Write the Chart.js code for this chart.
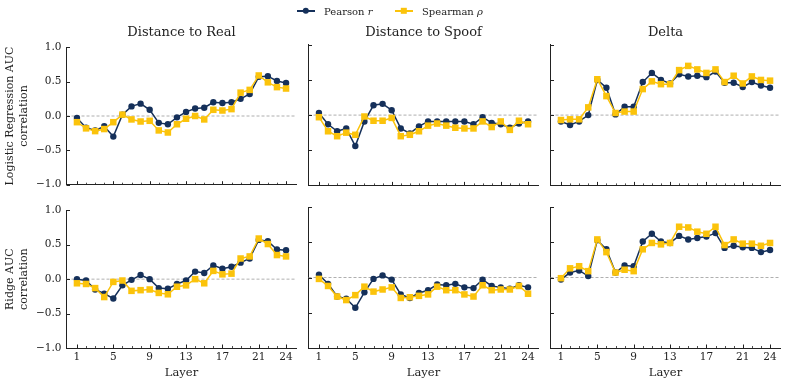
<!DOCTYPE html>
<html>
<head>
<meta charset="utf-8">
<script src="https://cdn.jsdelivr.net/npm/chart.js@4.4.1/dist/chart.umd.min.js"></script>
<style>
  html, body { margin: 0; padding: 0; background: #fff; }
  #fig { position: relative; width: 787px; height: 386px; overflow: hidden; font-family: 'DejaVu Serif', serif; color: #222; }
  canvas { position: absolute; }
  .ttl { position: absolute; font-size: 13px; transform: translate(-50%, -50%); white-space: nowrap; }
  .leg { position: absolute; font-size: 10px; white-space: nowrap; transform: translateY(-50%); }
  .legline { position: absolute; height: 1.5px; }
  .legmark { position: absolute; transform: translate(-50%, -50%); }
</style>
</head>
<body>
<div id="fig"></div>
<script>
// ---------------- DATA ----------------
const layers = [1,2,3,4,5,6,7,8,9,10,11,12,13,14,15,16,17,18,19,20,21,22,23,24];
const xTickLabels = [1,5,9,13,17,21,24];
const yTickValues = [-1.0,-0.5,0.0,0.5,1.0];
const columnTitles = ['Distance to Real','Distance to Spoof','Delta'];
const rowLabels = [['Logistic Regression AUC','correlation'], ['Ridge AUC','correlation']];
const seriesNames = ['Pearson r','Spearman ρ'];

// Logistic Regression row
const lrRealPearson   = [-0.03,-0.17,-0.21,-0.15,-0.30,0.02,0.14,0.18,0.09,-0.10,-0.12,-0.02,0.06,0.11,0.12,0.20,0.19,0.20,0.25,0.32,0.57,0.58,0.51,0.48];
const lrRealSpearman  = [-0.09,-0.18,-0.22,-0.19,-0.09,0.02,-0.05,-0.08,-0.07,-0.21,-0.24,-0.12,-0.04,0.00,-0.05,0.09,0.08,0.10,0.34,0.38,0.59,0.49,0.42,0.40];
const lrSpoofPearson  = [0.03,-0.13,-0.23,-0.19,-0.44,-0.09,0.14,0.16,0.07,-0.19,-0.26,-0.16,-0.09,-0.09,-0.09,-0.09,-0.09,-0.13,-0.03,-0.11,-0.13,-0.18,-0.12,-0.09];
const lrSpoofSpearman = [-0.03,-0.23,-0.30,-0.25,-0.28,-0.02,-0.08,-0.08,-0.04,-0.30,-0.28,-0.23,-0.15,-0.12,-0.15,-0.18,-0.19,-0.19,-0.09,-0.17,-0.09,-0.21,-0.08,-0.13];
const lrDeltaPearson  = [-0.09,-0.14,-0.09,0.00,0.50,0.39,0.01,0.12,0.12,0.47,0.60,0.50,0.45,0.58,0.55,0.56,0.54,0.62,0.46,0.46,0.40,0.47,0.42,0.39];
const lrDeltaSpearman = [-0.07,-0.06,-0.06,0.11,0.51,0.27,0.03,0.05,0.05,0.37,0.48,0.44,0.44,0.64,0.70,0.65,0.60,0.65,0.47,0.56,0.45,0.55,0.50,0.49];

// Ridge row
const ridgeRealPearson   = [0.00,-0.02,-0.15,-0.21,-0.28,-0.09,-0.01,0.06,0.00,-0.13,-0.14,-0.07,-0.02,0.11,0.09,0.20,0.15,0.18,0.24,0.30,0.57,0.55,0.43,0.42];
const ridgeRealSpearman  = [-0.06,-0.07,-0.13,-0.26,-0.04,-0.02,-0.17,-0.16,-0.15,-0.20,-0.22,-0.11,-0.09,0.00,-0.06,0.12,0.07,0.08,0.30,0.33,0.59,0.51,0.35,0.33];
const ridgeSpoofPearson  = [0.04,-0.09,-0.27,-0.30,-0.43,-0.21,-0.02,0.03,-0.03,-0.24,-0.29,-0.22,-0.18,-0.10,-0.11,-0.09,-0.14,-0.15,-0.03,-0.12,-0.14,-0.16,-0.11,-0.14];
const ridgeSpoofSpearman = [-0.02,-0.12,-0.27,-0.32,-0.25,-0.13,-0.20,-0.17,-0.14,-0.29,-0.28,-0.26,-0.24,-0.13,-0.18,-0.18,-0.24,-0.27,-0.11,-0.18,-0.17,-0.17,-0.12,-0.23];
const ridgeDeltaPearson  = [-0.03,0.07,0.10,0.02,0.53,0.40,0.07,0.17,0.16,0.51,0.62,0.51,0.49,0.59,0.54,0.56,0.58,0.63,0.42,0.45,0.43,0.42,0.36,0.39];
const ridgeDeltaSpearman = [-0.01,0.13,0.16,0.09,0.54,0.36,0.07,0.11,0.09,0.40,0.49,0.47,0.49,0.72,0.71,0.65,0.62,0.72,0.46,0.54,0.48,0.48,0.45,0.49];

const grid = [
  [[lrRealPearson, lrRealSpearman], [lrSpoofPearson, lrSpoofSpearman], [lrDeltaPearson, lrDeltaSpearman]],
  [[ridgeRealPearson, ridgeRealSpearman], [ridgeSpoofPearson, ridgeSpoofSpearman], [ridgeDeltaPearson, ridgeDeltaSpearman]]
];

// ---------------- STYLE / LAYOUT ----------------
const FONT = 'DejaVu Serif';
const NAVY = '#15305a';
const GOLD = '#fbc30b';
const INK = '#222';
const colLeft = [66.5, 308.5, 550.5];
const plotW = 230;
const rowTop = [44.8, 207];
const plotH = [140.6, 141];

const fig = document.getElementById('fig');

const refLine = {
  id: 'refLine',
  beforeDatasetsDraw(chart) {
    const {ctx, chartArea} = chart;
    const y = chart.scales.y.getPixelForValue(0);
    ctx.save();
    ctx.strokeStyle = '#9a9a9a';
    ctx.lineWidth = 0.8;
    ctx.setLineDash([3, 2]);
    ctx.beginPath();
    ctx.moveTo(chartArea.left, y);
    ctx.lineTo(chartArea.right, y);
    ctx.stroke();
    ctx.restore();
  }
};

const inwardTicks = {
  id: 'inwardTicks',
  afterDraw(chart) {
    const {ctx, chartArea} = chart;
    const xs = chart.scales.x, ys = chart.scales.y;
    ctx.save();
    ctx.strokeStyle = INK;
    layers.forEach(l => {
      const major = xTickLabels.includes(l);
      const x = Math.round(xs.getPixelForValue(l)) + 0.5;
      ctx.lineWidth = major ? 1 : 0.8;
      ctx.beginPath();
      ctx.moveTo(x, chartArea.bottom);
      ctx.lineTo(x, chartArea.bottom - (major ? 3.5 : 2));
      ctx.stroke();
    });
    yTickValues.forEach(v => {
      const y = Math.round(ys.getPixelForValue(v)) + 0.5;
      ctx.lineWidth = 1;
      ctx.beginPath();
      ctx.moveTo(chartArea.left, y);
      ctx.lineTo(chartArea.left + 3.5, y);
      ctx.stroke();
    });
    ctx.restore();
  }
};

function makeChart(r, c) {
  const canvasLeft = c === 0 ? 0 : Math.floor(colLeft[c]) - 22;
  const yW = colLeft[c] - canvasLeft;
  const cw = Math.ceil(yW + plotW + 8);
  const padRight = cw - yW - plotW;
  const canvasTop = Math.floor(rowTop[r]) - 8;
  const padTop = rowTop[r] - canvasTop;
  const ch = r === 0 ? Math.ceil(padTop + plotH[r] + 10) : 386 - canvasTop;
  const xH = ch - padTop - plotH[r];

  const cv = document.createElement('canvas');
  cv.width = cw; cv.height = ch;
  cv.style.left = canvasLeft + 'px';
  cv.style.top = canvasTop + 'px';
  cv.style.width = cw + 'px';
  cv.style.height = ch + 'px';
  fig.appendChild(cv);

  const [pearson, spearman] = grid[r][c];
  const toPts = arr => layers.map((l, i) => ({x: l, y: arr[i]}));

  new Chart(cv.getContext('2d'), {
    type: 'line',
    data: {
      datasets: [
        { label: seriesNames[0], data: toPts(pearson), borderColor: NAVY, backgroundColor: NAVY,
          borderWidth: 1.5, pointStyle: 'circle', pointRadius: 3.2, pointBorderWidth: 0,
          pointBackgroundColor: NAVY, tension: 0, order: 2, clip: false },
        { label: seriesNames[1], data: toPts(spearman), borderColor: GOLD, backgroundColor: GOLD,
          borderWidth: 1.5, pointStyle: 'rect', pointRadius: 4.6, pointBorderWidth: 0,
          pointBackgroundColor: GOLD, tension: 0, order: 1, clip: false }
      ]
    },
    options: {
      responsive: false,
      animation: false,
      devicePixelRatio: 1,
      events: [],
      layout: { autoPadding: false, padding: { left: 0, top: padTop, right: padRight, bottom: 0 } },
      plugins: { legend: { display: false }, title: { display: false }, tooltip: { enabled: false } },
      scales: {
        x: {
          type: 'linear', min: -0.15, max: 25.15,
          grid: { display: false, drawTicks: false },
          border: { display: true, color: INK, width: 1 },
          afterBuildTicks: s => { s.ticks = xTickLabels.map(v => ({ value: v })); },
          afterFit: s => { s.height = xH; },
          ticks: { display: r === 1, padding: 3, color: INK, font: { family: FONT, size: 10.5 },
                   maxRotation: 0, autoSkip: false, callback: v => String(v) },
          title: { display: r === 1, text: 'Layer', color: INK, font: { family: FONT, size: 11.5 },
                   padding: { top: 0, bottom: 6.4 } }
        },
        y: {
          min: -1, max: 1,
          grid: { display: false, drawTicks: false },
          border: { display: true, color: INK, width: 1 },
          afterBuildTicks: s => { s.ticks = yTickValues.map(v => ({ value: v })); },
          afterFit: s => { s.width = yW; },
          ticks: { display: c === 0, padding: 5, color: INK, font: { family: FONT, size: 10.5 },
                   callback: v => (v < 0 ? '\u2212' : '') + Math.abs(v).toFixed(1) },
          title: { display: c === 0, text: rowLabels[r], color: INK, font: { family: FONT, size: 11 },
                   padding: { top: 4, bottom: 0 } }
        }
      }
    },
    plugins: [refLine, inwardTicks]
  });
}

for (let r = 0; r < 2; r++) for (let c = 0; c < 3; c++) makeChart(r, c);

// Column titles
columnTitles.forEach((t, c) => {
  const d = document.createElement('div');
  d.className = 'ttl';
  d.textContent = t;
  d.style.left = (colLeft[c] + plotW / 2) + 'px';
  d.style.top = '31px';
  fig.appendChild(d);
});

// Legend
function legendItem(x0, color, shape, label) {
  const ln = document.createElement('div');
  ln.className = 'legline';
  ln.style.left = x0 + 'px'; ln.style.top = '10.2px'; ln.style.width = '18px'; ln.style.background = color;
  fig.appendChild(ln);
  const mk = document.createElement('div');
  mk.className = 'legmark';
  mk.style.left = (x0 + 9) + 'px'; mk.style.top = '11px';
  mk.style.background = color;
  if (shape === 'circle') { mk.style.width = '6.4px'; mk.style.height = '6.4px'; mk.style.borderRadius = '50%'; }
  else { mk.style.width = '6.4px'; mk.style.height = '6.4px'; }
  fig.appendChild(mk);
  const tx = document.createElement('div');
  tx.className = 'leg';
  tx.style.left = (x0 + 27) + 'px'; tx.style.top = '11px';
  const parts = label.split(' ');
  tx.innerHTML = parts[0] + ' <i>' + parts[1] + '</i>';
  fig.appendChild(tx);
}
legendItem(297, NAVY, 'circle', seriesNames[0]);
legendItem(395, GOLD, 'rect', seriesNames[1]);
</script>
</body>
</html>
